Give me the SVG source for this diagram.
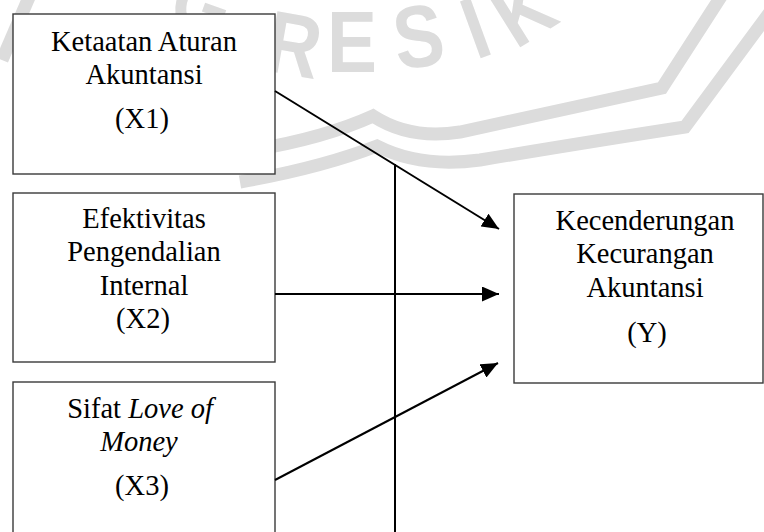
<svg xmlns="http://www.w3.org/2000/svg" width="764" height="532" viewBox="0 0 764 532">
<style>
.wm{fill:none;stroke:#dcdcdc;stroke-width:13;stroke-linejoin:miter}
.wmt{fill:#dcdcdc;font-family:"Liberation Sans",Arial,sans-serif;font-weight:bold;font-size:88px}
.box{fill:#fff;stroke:#3a3a3a;stroke-width:1.4}
.lbl{font-family:"Liberation Serif","Times New Roman",serif;font-size:28.5px;fill:#000;text-anchor:middle}
.con{stroke:#000;stroke-width:2;fill:none}
</style>
<defs>
<marker id="ah" markerUnits="userSpaceOnUse" markerWidth="17" markerHeight="15" refX="17" refY="7.5" orient="auto" viewBox="0 0 17 15">
<path d="M0,0 L17,7.5 L0,15 Z" fill="#000"/>
</marker>
</defs>
<rect width="764" height="532" fill="#fff"/>
<g id="watermark">
<path class="wm" d="M240,152 Q320,140 373,116 Q410,140 460,132 Q560,110 662,88 L722,-5"/>
<path class="wm" d="M240,182 Q320,168 377,146 Q420,168 480,160 Q600,140 685,127 L770,12"/>
<path class="wm" d="M2,60 L30,-5"/>
<text class="wmt" transform="translate(165,22) rotate(20) scale(0.85,1)">G</text>
<text class="wmt" transform="translate(262,70) rotate(10) scale(0.85,1)">R</text>
<text class="wmt" transform="translate(327,72) scale(0.85,1)">E</text>
<text class="wmt" transform="translate(398,70) rotate(-8) scale(0.85,1)">S</text>
<text class="wmt" transform="translate(476,60) rotate(-20) scale(0.85,1)">I</text>
<text class="wmt" transform="translate(516,50) rotate(-32) scale(0.85,1)">K</text>
</g>
<g id="node-x1">
<rect class="box" x="13" y="14" width="262" height="160"/>
<text class="lbl" x="144" y="51">Ketaatan Aturan</text>
<text class="lbl" x="144" y="84">Akuntansi</text>
<text class="lbl" x="142" y="128">(X1)</text>
</g>
<g id="node-x2">
<rect class="box" x="13" y="193" width="262" height="169"/>
<text class="lbl" x="144" y="228">Efektivitas</text>
<text class="lbl" x="144" y="261">Pengendalian</text>
<text class="lbl" x="144" y="295">Internal</text>
<text class="lbl" x="143" y="328">(X2)</text>
</g>
<g id="node-x3">
<rect class="box" x="13" y="382" width="262" height="170"/>
<text class="lbl" x="140" y="418">Sifat <tspan font-style="italic">Love of</tspan></text>
<text class="lbl" x="139" y="451" font-style="italic">Money</text>
<text class="lbl" x="142" y="495">(X3)</text>
</g>
<g id="node-y">
<rect class="box" x="514" y="194" width="249" height="189"/>
<text class="lbl" x="645" y="230">Kecenderungan</text>
<text class="lbl" x="645" y="263">Kecurangan</text>
<text class="lbl" x="645" y="297">Akuntansi</text>
<text class="lbl" x="647" y="342">(Y)</text>
</g>
<g id="connectors">
<line class="con" x1="275" y1="91" x2="499" y2="229" marker-end="url(#ah)"/>
<line class="con" x1="275" y1="294" x2="499" y2="294" marker-end="url(#ah)"/>
<line class="con" x1="275" y1="480" x2="498" y2="363" marker-end="url(#ah)"/>
<line class="con" x1="395" y1="164" x2="395" y2="532"/>
</g>
</svg>
